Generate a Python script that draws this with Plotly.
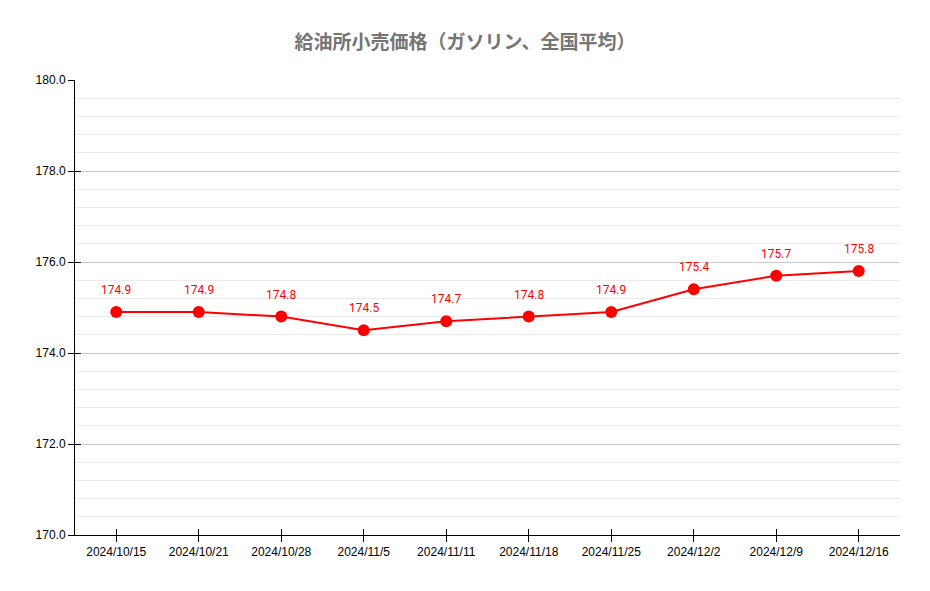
import plotly.graph_objects as go

dates = ["2024/10/15", "2024/10/21", "2024/10/28", "2024/11/5", "2024/11/11",
         "2024/11/18", "2024/11/25", "2024/12/2", "2024/12/9", "2024/12/16"]
prices = [174.9, 174.9, 174.8, 174.5, 174.7, 174.8, 174.9, 175.4, 175.7, 175.8]
y_ticks = [170, 172, 174, 176, 178, 180]
y_tick_labels = ["170.0", "172.0", "174.0", "176.0", "178.0", "180.0"]

fig = go.Figure()
fig.add_trace(go.Scatter(
    x=dates, y=prices, mode="lines+markers",
    line=dict(color="#ff0000", width=2),
    marker=dict(color="#ff0000", size=12),
    cliponaxis=False, hoverinfo="x+y",
))
# invisible trace to draw the inner halves of the tick marks
fig.add_trace(go.Scatter(
    x=dates, y=prices, mode="markers", xaxis="x2", yaxis="y2",
    marker=dict(opacity=0), hoverinfo="skip", showlegend=False,
))

for d, v in zip(dates, prices):
    fig.add_annotation(x=d, y=v, text=f"{v:.1f}", showarrow=False,
                       yshift=22, font=dict(family="Roboto, sans-serif", size=12, color="#ff0000"))

xr = [-0.5, len(dates) - 0.5]
tickfont = dict(family="Liberation Sans, Arial", size=12, color="black")
fig.update_layout(
    width=930, height=591,
    margin=dict(l=67, r=38, t=72, b=64),
    paper_bgcolor="white", plot_bgcolor="white",
    showlegend=False,
    title=dict(text="給油所小売価格（ガソリン、全国平均）", x=0.5 - 8 / 930, xanchor="center",
               y=1 - 34 / 591, yanchor="middle",
               font=dict(family="Noto Sans CJK JP", size=19, color="#757575", weight="bold")),
    xaxis=dict(type="category", range=xr, showgrid=False, showline=True, linecolor="black",
               linewidth=1, ticks="outside", ticklen=6, tickcolor="black",
               tickfont=tickfont, zeroline=False),
    xaxis2=dict(type="category", range=xr, overlaying="x", showgrid=False,
                showline=False, ticks="inside", ticklen=6, tickcolor="black",
                showticklabels=False, zeroline=False, side="bottom"),
    yaxis=dict(range=[170, 180], tickvals=y_ticks, ticktext=y_tick_labels,
               showgrid=True, gridcolor="#cccccc", gridwidth=1,
               showline=True, linecolor="black", linewidth=1,
               ticks="outside", ticklen=6, tickcolor="black",
               tickfont=tickfont,
               minor=dict(dtick=0.4, showgrid=True, gridcolor="#ebebeb", gridwidth=1),
               zeroline=False),
    yaxis2=dict(range=[170, 180], tickvals=y_ticks, overlaying="y", side="left",
                showgrid=False, showline=False, ticks="inside", ticklen=6,
                tickcolor="black", showticklabels=False, zeroline=False),
)

fig.write_html("out.html")
